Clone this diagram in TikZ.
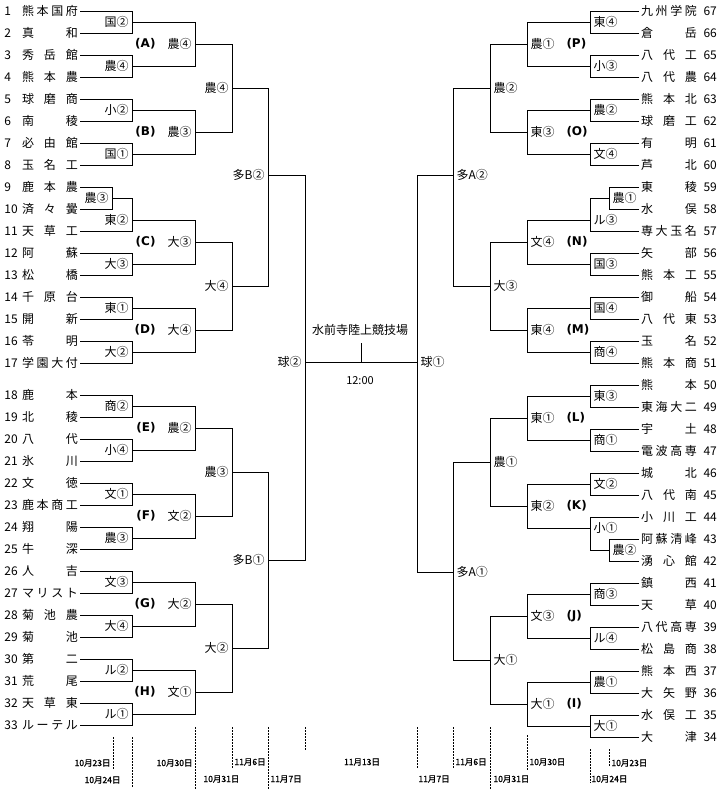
\documentclass[tikz,border=0pt]{standalone}
\usepackage{fontspec}
\setmainfont{Noto Sans CJK JP}
\newfontfamily\abcfont{DejaVu Sans}
\newfontfamily\dayfont{Noto Sans CJK JP}[FakeBold=1.2]
\usetikzlibrary{positioning}

\tikzset{
  team/.style={inner sep=0pt, outer xsep=2pt, font=\fontsize{12}{12}\selectfont},
  num/.style={inner sep=0pt, anchor=west, font=\fontsize{12}{12}\selectfont},
  res/.style={inner sep=0pt, font=\fontsize{12}{12}\selectfont},
  resL/.style={res, anchor=east, xshift=-3pt},
  resR/.style={res, anchor=west, xshift=3pt},
  blk/.style={inner sep=0pt, font=\abcfont\bfseries\fontsize{12}{12}\selectfont},
  day/.style={inner sep=0pt, font=\dayfont\fontsize{8.5}{9}\selectfont},
  sep/.style={line width=0.8pt, dash pattern=on 1.5pt off 1.5pt}
}
\newcommand\nm[1]{\makebox[56pt]{#1}}

\begin{document}
\begin{tikzpicture}[x=1pt,y=-1pt,line width=1pt]
\fill[white] (0,0) rectangle (724,790);
\useasboundingbox (0,0) rectangle (724,790);

% teams, left side (1-33)
\foreach \k/\s [evaluate=\k as \y using (\k<18)*(22*\k-11)+(\k>17)*(22*\k-1)] in {
  1/{熊\hfill 本\hfill 国\hfill 府}, 2/{真\hfill 和}, 3/{秀\hfill 岳\hfill 館},
  4/{熊\hfill 本\hfill 農}, 5/{球\hfill 磨\hfill 商}, 6/{南\hfill 稜},
  7/{必\hfill 由\hfill 館}, 8/{玉\hfill 名\hfill 工}, 9/{鹿\hfill 本\hfill 農},
  10/{済\hfill 々\hfill 黌}, 11/{天\hfill 草\hfill 工}, 12/{阿\hfill 蘇},
  13/{松\hfill 橋}, 14/{千\hfill 原\hfill 台}, 15/{開\hfill 新},
  16/{苓\hfill 明}, 17/{学\hfill 園\hfill 大\hfill 付}, 18/{鹿\hfill 本},
  19/{北\hfill 稜}, 20/{八\hfill 代}, 21/{氷\hfill 川},
  22/{文\hfill 徳}, 23/{鹿\hfill 本\hfill 商\hfill 工}, 24/{翔\hfill 陽},
  25/{牛\hfill 深}, 26/{人\hfill 吉}, 27/{マ\hfill リ\hfill ス\hfill ト},
  28/{菊\hfill 池\hfill 農}, 29/{菊\hfill 池}, 30/{第\hfill 二},
  31/{荒\hfill 尾}, 32/{天\hfill 草\hfill 東}, 33/{ル\hfill ー\hfill テ\hfill ル}}{
  \node[num] at (4,\y) {\k};
  \node[team, anchor=west] (t\k) at (20,\y) {\nm{\s}};
}

% teams, right side (67-34)
\foreach \k/\s [evaluate=\k as \y using 1485-22*\k] in {
  67/{九\hfill 州\hfill 学\hfill 院}, 66/{倉\hfill 岳}, 65/{八\hfill 代\hfill 工},
  64/{八\hfill 代\hfill 農}, 63/{熊\hfill 本\hfill 北}, 62/{球\hfill 磨\hfill 工},
  61/{有\hfill 明}, 60/{芦\hfill 北}, 59/{東\hfill 稜},
  58/{水\hfill 俣}, 57/{専\hfill 大\hfill 玉\hfill 名}, 56/{矢\hfill 部},
  55/{熊\hfill 本\hfill 工}, 54/{御\hfill 船}, 53/{八\hfill 代\hfill 東},
  52/{玉\hfill 名}, 51/{熊\hfill 本\hfill 商}, 50/{熊\hfill 本},
  49/{東\hfill 海\hfill 大\hfill 二}, 48/{宇\hfill 土}, 47/{電\hfill 波\hfill 高\hfill 専},
  46/{城\hfill 北}, 45/{八\hfill 代\hfill 南}, 44/{小\hfill 川\hfill 工},
  43/{阿\hfill 蘇\hfill 清\hfill 峰}, 42/{湧\hfill 心\hfill 館}, 41/{鎮\hfill 西},
  40/{天\hfill 草}, 39/{八\hfill 代\hfill 高\hfill 専}, 38/{松\hfill 島\hfill 商},
  37/{熊\hfill 本\hfill 西}, 36/{大\hfill 矢\hfill 野}, 35/{水\hfill 俣\hfill 工},
  34/{大\hfill 津}}{
  \node[num] at (703,\y) {\k};
  \node[team, anchor=east] (u\k) at (699,\y) {\nm{\s}};
}

% results, left side
\coordinate (p9) at (112,198); \node[resL] at (p9) {農③};
\foreach \m/\y/\r in {a1/22/国②, a2/66/農④, a3/110/小②, a4/154/国①,
  a5/220/東②, a6/264/大③, a7/308/東①, a8/352/大②, a9/406/商②,
  a10/450/小④, a11/494/文①, a12/538/農③, a13/582/文③, a14/626/大④,
  a15/670/ル②, a16/714/ル①}{
  \coordinate (\m) at (132,\y); \node[resL] at (\m) {\r};
}
\foreach \m/\y/\g/\r in {bA/44/A/農④, bB/132/B/農③, bC/242/C/大③,
  bD/330/D/大④, bE/428/E/農②, bF/516/F/文②, bG/604/G/大②, bH/692/H/文①}{
  \coordinate (\m) at (195,\y); \node[resL] (l\m) at (\m) {\r};
  \node[blk, left=11pt of l\m] {(\g)};
}
\foreach \m/\y/\r in {c1/88/農④, c2/286/大④, c3/472/農③, c4/648/大②}{
  \coordinate (\m) at (232,\y); \node[resL] at (\m) {\r};
}
\coordinate (d1) at (268,175); \node[resL] at (d1) {多B②};
\coordinate (d2) at (268,560); \node[resL] at (d2) {多B①};
\coordinate (e) at (305,362); \node[resL] at (e) {球②};

% results, right side
\coordinate (q59) at (609,198); \node[resR] at (q59) {農①};
\coordinate (q43) at (609,550); \node[resR] at (q43) {農②};
\foreach \m/\y/\r in {r1/22/東④, r2/66/小③, r3/110/農②, r4/154/文④,
  r5/220/ル③, r6/264/国③, r7/308/国④, r8/352/商④, r9/396/東③,
  r10/440/商①, r11/484/文②, r12/528/小①, r13/594/商③, r14/638/ル④,
  r15/682/農①, r16/726/大①}{
  \coordinate (\m) at (590,\y); \node[resR] at (\m) {\r};
}
\foreach \m/\y/\g/\r in {sP/44/P/農①, sO/132/O/東③, sN/242/N/文④,
  sM/330/M/東④, sL/418/L/東①, sK/506/K/東②, sJ/616/J/文③, sI/704/I/大①}{
  \coordinate (\m) at (527,\y); \node[resR] (l\m) at (\m) {\r};
  \node[blk, right=11pt of l\m] {(\g)};
}
\foreach \m/\y/\r in {w1/88/農②, w2/286/大③, w3/462/農①, w4/660/大①}{
  \coordinate (\m) at (490,\y); \node[resR] at (\m) {\r};
}
\coordinate (v1) at (453,175); \node[resR] at (v1) {多A②};
\coordinate (v2) at (453,572); \node[resR] at (v2) {多A①};
\coordinate (f) at (417,362); \node[resR] at (f) {球①};

% bracket lines
\foreach \c/\p in {t1.east/a1, t2.east/a1, t3.east/a2, t4.east/a2,
  t5.east/a3, t6.east/a3, t7.east/a4, t8.east/a4, t9.east/p9, t10.east/p9,
  p9/a5, t11.east/a5, t12.east/a6, t13.east/a6, t14.east/a7, t15.east/a7,
  t16.east/a8, t17.east/a8, t18.east/a9, t19.east/a9, t20.east/a10,
  t21.east/a10, t22.east/a11, t23.east/a11, t24.east/a12, t25.east/a12,
  t26.east/a13, t27.east/a13, t28.east/a14, t29.east/a14, t30.east/a15,
  t31.east/a15, t32.east/a16, t33.east/a16,
  a1/bA, a2/bA, a3/bB, a4/bB, a5/bC, a6/bC, a7/bD, a8/bD,
  a9/bE, a10/bE, a11/bF, a12/bF, a13/bG, a14/bG, a15/bH, a16/bH,
  bA/c1, bB/c1, bC/c2, bD/c2, bE/c3, bF/c3, bG/c4, bH/c4,
  c1/d1, c2/d1, c3/d2, c4/d2, d1/e, d2/e}
  \draw (\c) -| (\p);
\foreach \c/\p in {u67.west/r1, u66.west/r1, u65.west/r2, u64.west/r2,
  u63.west/r3, u62.west/r3, u61.west/r4, u60.west/r4, u59.west/q59,
  u58.west/q59, q59/r5, u57.west/r5, u56.west/r6, u55.west/r6,
  u54.west/r7, u53.west/r7, u52.west/r8, u51.west/r8, u50.west/r9,
  u49.west/r9, u48.west/r10, u47.west/r10, u46.west/r11, u45.west/r11,
  u44.west/r12, u43.west/q43, u42.west/q43, q43/r12, u41.west/r13,
  u40.west/r13, u39.west/r14, u38.west/r14, u37.west/r15, u36.west/r15,
  u35.west/r16, u34.west/r16,
  r1/sP, r2/sP, r3/sO, r4/sO, r5/sN, r6/sN, r7/sM, r8/sM,
  r9/sL, r10/sL, r11/sK, r12/sK, r13/sJ, r14/sJ, r15/sI, r16/sI,
  sP/w1, sO/w1, sN/w2, sM/w2, sL/w3, sK/w3, sJ/w4, sI/w4,
  w1/v1, w2/v1, w3/v2, w4/v2, v1/f, v2/f}
  \draw (\c) -| (\p);

% final
\draw (e) -- (f);
\node[res] (venue) at (360,330) {水前寺陸上競技場};
\node[res, font=\fontsize{11}{11}\selectfont] (time) at (360,381) {12:00};
\coordinate (mid) at (361,362);
\draw (mid) -- ++(0,-19);

% days
\foreach \x/\a/\b in {113/737/770, 132/737/787, 195/727/790, 232/727/768,
  268/727/790, 305/727/750, 417/727/768, 453/727/768, 490/727/790,
  527/735/770, 590/749/783, 609/749/767}
  \draw[sep] (\x,\a) -- (\x,\b);
\node[day, anchor=east] at (111,763) {10月23日};
\node[day, anchor=east] at (121,780) {10月24日};
\node[day, anchor=east] at (193,763) {10月30日};
\node[day, anchor=west] at (203,779) {10月31日};
\node[day, anchor=west] at (234,762) {11月6日};
\node[day, anchor=west] at (270,779) {11月7日};
\node[day] at (362,762) {11月13日};
\node[day, anchor=west] at (418,779) {11月7日};
\node[day, anchor=west] at (455,762) {11月6日};
\node[day, anchor=west] at (493,779) {10月31日};
\node[day, anchor=west] at (529,762) {10月30日};
\node[day, anchor=west] at (591,779) {10月24日};
\node[day, anchor=west] at (611,763) {10月23日};
\end{tikzpicture}
\end{document}
